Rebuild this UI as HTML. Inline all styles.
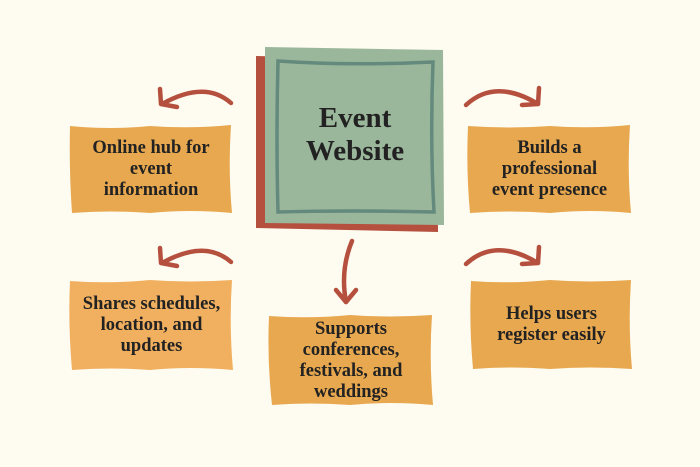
<!DOCTYPE html>
<html><head><style>
html,body{margin:0;padding:0;background:#fefbf0;}
body{width:700px;height:467px;position:relative;overflow:hidden;font-family:"Liberation Serif",serif;font-weight:bold;color:#222;}
.t{position:absolute;display:flex;align-items:center;justify-content:center;text-align:center;font-size:18.5px;line-height:21px;}
</style></head><body>
<svg width="700" height="467" style="position:absolute;left:0;top:0">
<path d="M256,56 L437,60 L438,232 L256,228 Z" fill="#b5503f"/>
<path d="M265,47 L443,50 L444,225 L265,223 Z" fill="#9bb79b"/>
<path d="M278,61 Q350,66 433,62 Q430,140 434,212 Q350,210 278,212 Q276,140 278,61 Z" fill="none" stroke="#638a7c" stroke-width="3.5"/>
<path d="M70,126 Q110,130 150,126 Q190,129 231,125 Q228,170 232,213 Q190,209 150,213 Q110,210 72,213 Q69,170 70,126 Z" fill="#e8a84f"/>
<path d="M468,126 Q510,129 550,126 Q590,129 630,125 Q627,170 631,213 Q590,209 550,213 Q510,210 470,213 Q466,170 468,126 Z" fill="#e8a84f"/>
<path d="M70,281 Q110,284 150,280 Q190,283 232,280 Q229,325 233,370 Q190,366 150,370 Q110,367 72,370 Q68,325 70,281 Z" fill="#f0b060"/>
<path d="M269,316 Q310,319 350,315 Q390,318 432,315 Q429,360 433,405 Q390,401 350,405 Q310,402 272,405 Q267,360 269,316 Z" fill="#e8a84f"/>
<path d="M471,281 Q510,284 550,280 Q590,283 631,280 Q628,325 632,369 Q590,366 550,369 Q510,366 473,369 Q469,325 471,281 Z" fill="#e8a84f"/>
<g fill="none" stroke="#b5503f" stroke-width="4.5" stroke-linecap="round" stroke-linejoin="round">
<path d="M231,103 Q205,80 162,104"/><path d="M160,89 L161,104 L177,107"/>
<path d="M466,105 Q495,78 538,104"/><path d="M539,88 L538,104 L522,105"/>
<path d="M231,262 Q205,239 162,263"/><path d="M160,248 L161,263 L177,266"/>
<path d="M466,264 Q495,237 538,263"/><path d="M539,247 L538,263 L522,264"/>
<path d="M352,241 Q340,270 346,302"/><path d="M336,290 L346,302 L356,290"/>
</g>
</svg>
<div class="t" style="left:265px;top:100px;width:180px;height:70px;font-size:29px;line-height:33px;">Event<br>Website</div>
<div class="t" style="left:70px;top:126px;width:162px;height:87px;">Online hub for<br>event<br>information</div>
<div class="t" style="left:468px;top:126px;width:163px;height:87px;">Builds a<br>professional<br>event presence</div>
<div class="t" style="left:70px;top:281px;width:163px;height:89px;">Shares schedules,<br>location, and<br>updates</div>
<div class="t" style="left:269px;top:316px;width:164px;height:89px;">Supports<br>conferences,<br>festivals, and<br>weddings</div>
<div class="t" style="left:471px;top:281px;width:161px;height:88px;">Helps users<br>register easily</div>
</body></html>
